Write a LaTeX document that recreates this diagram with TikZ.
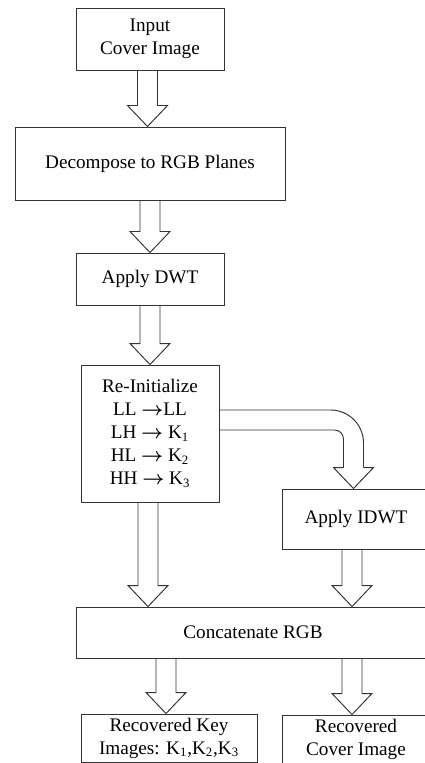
\documentclass[tikz,border=0pt]{standalone}
\usepackage{amsmath}
\usepackage{fontspec}
\setmainfont{Liberation Serif}
\usetikzlibrary{calc}
\newcommand{\px}{0.625pt}
\newcommand{\linew}{0.6pt}
\newcommand{\toarr}{$\boldsymbol{\rightarrow}$}
% block arrow: #1 = x of shaft, #2 = from node, #3 = to node
\newcommand{\blkarrow}[3]{%
  \path (#1,0 |- #2.south) coordinate (s) (#1,0 |- #3.north) coordinate (t);
  \draw[blockarrow] ($(s)+(-10,0)$) -- ($(t)+(-10,-21)$) -- ($(t)+(-20,-21)$) -- (t)
    -- ($(t)+(20,-21)$) -- ($(t)+(10,-21)$) -- ($(s)+(10,0)$);}

\begin{document}
\begin{tikzpicture}[x=\px,y=-\px]
        \tikzset{
            box/.style = {draw=black!80, line width=\linew, align=center, inner sep=0pt,
                          font=\fontsize{12}{14.4}\selectfont},
            blockarrow/.style = {draw=black!80, line width=\linew, line join=miter}
        }
        \useasboundingbox (0,0) rectangle (425,763);
        \clip (0,0) rectangle (425,763);
        %\draw[help lines] (0,0) grid[step=20] (425,763);
        \node[box, minimum width=148*\px, minimum height=62*\px] (input) at (150,39) {Input\\Cover Image};
        \node[box, minimum width=270*\px, minimum height=73*\px] (decomp) at (150,163.5) {Decompose to RGB Planes};
        \node[box, minimum width=148*\px, minimum height=52*\px] (dwt) at (150,279) {Apply DWT};
        \node[box, minimum width=138*\px, minimum height=137*\px] (reinit) at (150,433.5)
            {Re-Initialize\\LL \toarr LL\\LH \toarr\ K\textsubscript{1}\\HL \toarr\ K\textsubscript{2}\\HH \toarr\ K\textsubscript{3}};
        \node[box, minimum width=148*\px, minimum height=60*\px] (idwt) at (356,519) {Apply IDWT};
        \node[box, minimum width=354*\px, minimum height=51*\px] (concat) at (253,632.5) {Concatenate RGB};
        \node[box, minimum width=176*\px, minimum height=48*\px] (keys) at (169,738) {Recovered Key\\Images: K\textsubscript{1},K\textsubscript{2},K\textsubscript{3}};
        \node[box, minimum width=148*\px, minimum height=48*\px] (cover) at (356,739) {Recovered\\Cover Image};

        \blkarrow{147.5}{input}{decomp}
        \blkarrow{150}{decomp}{dwt}
        \blkarrow{150}{dwt}{reinit}
        \blkarrow{148}{reinit}{concat}
        \blkarrow{352}{idwt}{concat}
        \blkarrow{166}{concat}{keys}
        \blkarrow{352}{concat}{cover}

        % bent arrow to IDWT
        \coordinate (ra) at ($(reinit.east)+(0,-23.5)$);
        \coordinate (rb) at ($(reinit.east)+(0,-3.5)$);
        \coordinate (tip) at (353.5,0 |- idwt.north);
        \draw[blockarrow, rounded corners=20.6pt] (ra) -- (ra -| 363.5,0) -- ($(tip)+(10,-21)$);
        \draw[blockarrow, rounded corners=5.6pt] (rb) -- (rb -| 343.5,0) -- ($(tip)+(-10,-21)$);
        \draw[blockarrow] ($(tip)+(10,-21)$) -- ($(tip)+(20,-21)$) -- (tip) -- ($(tip)+(-20,-21)$) -- ($(tip)+(-10,-21)$);
\end{tikzpicture}
\end{document}
